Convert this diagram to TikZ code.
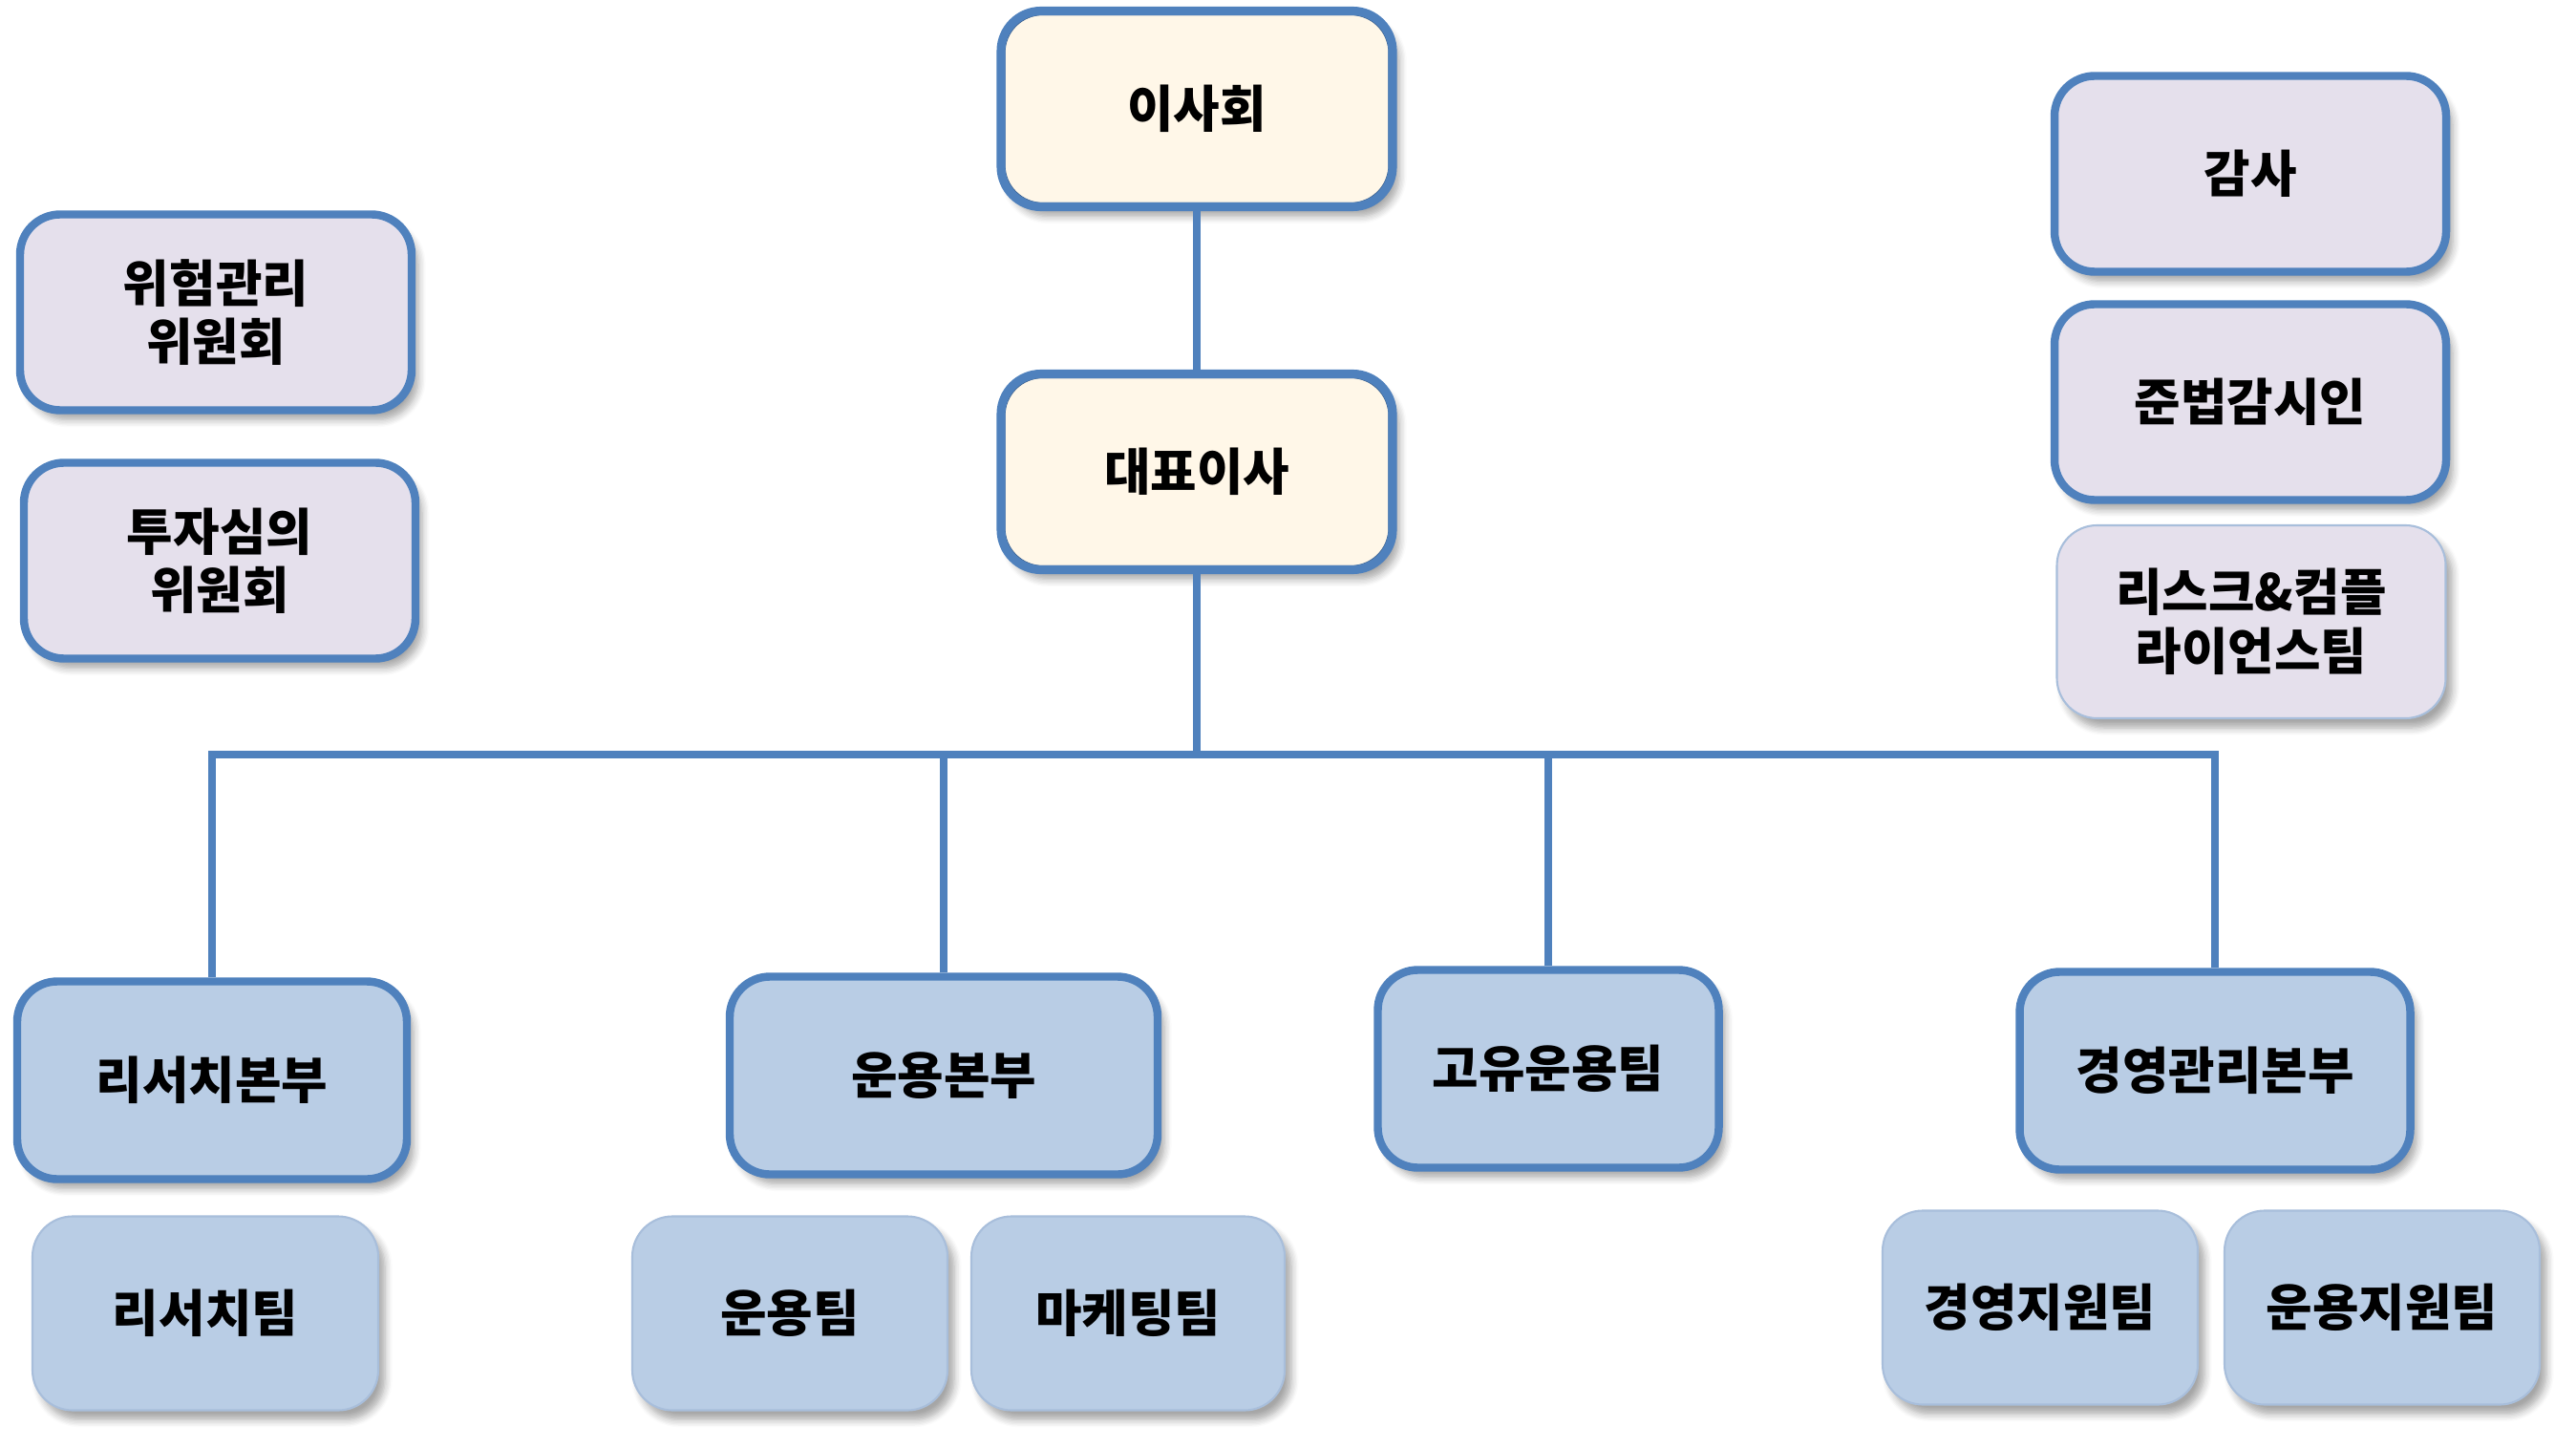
\documentclass[tikz,border=0pt]{standalone}
\usepackage{fontspec}
\setmainfont{Noto Sans CJK KR}
\usetikzlibrary{shadows.blur}
\definecolor{frame}{HTML}{4F81BD}
\definecolor{darkframe}{HTML}{3A5F8C}
\definecolor{cream}{HTML}{FFF7E8}
\definecolor{lilac}{HTML}{E5E0EC}
\definecolor{paleblue}{HTML}{B9CDE5}
\definecolor{softedge}{HTML}{A8BEDB}

\begin{document}
\begin{tikzpicture}
	\tikzset{
		box/.style={rounded corners=0.42cm, align=center, inner sep=0pt,
			font=\fontsize{15}{17.5}\selectfont\bfseries,
			blur shadow={shadow xshift=0.07cm, shadow yshift=-0.1cm, shadow blur steps=6, shadow opacity=35}},
		topbox/.style={box, fill=cream, draw=frame, line width=2.6pt, minimum width=4.1cm, minimum height=2.05cm,
			path picture={\draw[darkframe, line width=1.6pt, rounded corners=0.42cm]
				([xshift=0.5pt,yshift=0.5pt]path picture bounding box.south west) rectangle
				([xshift=-0.5pt,yshift=-0.5pt]path picture bounding box.north east);}},
		sidebox/.style={box, fill=lilac, draw=frame, line width=2.4pt, minimum width=4.1cm, minimum height=2.05cm},
		divbox/.style={box, fill=paleblue, draw=frame, line width=2.4pt, minimum height=2.07cm},
		teambox/.style={box, fill=paleblue, draw=softedge, line width=0.6pt, minimum height=2.03cm},
		conn/.style={draw=frame, line width=2.2pt}
	}
	\useasboundingbox (0,0) rectangle (26.97,-15.16);

	\node[topbox] (board) at (12.53,-1.14) {이사회};
	\node[topbox] (ceo) at (12.53,-4.94) {대표이사};

	\node[sidebox] (riskcom) at (2.26,-3.27) {위험관리\\위원회};
	\node[sidebox] (invcom) at (2.30,-5.87) {투자심의\\위원회};

	\node[sidebox] (audit) at (23.56,-1.82) {감사};
	\node[sidebox] (compl) at (23.56,-4.21) {준법감시인};
	\node[teambox, fill=lilac, minimum width=4.07cm, minimum height=2.02cm] (riskteam) at (23.57,-6.51) {리스크\&컴플\\라이언스팀};

	\node[divbox, minimum width=4.08cm] (resdiv) at (2.22,-11.31) {리서치본부};
	\node[divbox, minimum width=4.48cm] (opsdiv) at (9.88,-11.26) {운용본부};
	\node[divbox, minimum width=3.57cm] (propteam) at (16.21,-11.19) {고유운용팀};
	\node[divbox, minimum width=4.09cm] (mgmtdiv) at (23.19,-11.21) {경영관리본부};

	\node[teambox, minimum width=3.62cm] (resteam) at (2.15,-13.75) {리서치팀};
	\node[teambox, minimum width=3.30cm] (opsteam) at (8.27,-13.75) {운용팀};
	\node[teambox, minimum width=3.28cm] (mktteam) at (11.81,-13.75) {마케팅팀};
	\node[teambox, minimum width=3.30cm] (mgmtteam) at (21.36,-13.69) {경영지원팀};
	\node[teambox, minimum width=3.30cm] (opssupteam) at (24.94,-13.69) {운용지원팀};

	\coordinate (bus) at (12.53,-7.9);
	\draw[conn] (board.south) -- (ceo.north);
	\draw[conn] (ceo.south) -- (bus);
	\draw[conn] (resdiv.north) |- (bus);
	\draw[conn] (mgmtdiv.north) |- (bus);
	\draw[conn] (opsdiv.north) -- (opsdiv.north |- bus);
	\draw[conn] (propteam.north) -- (propteam.north |- bus);
\end{tikzpicture}
\end{document}
